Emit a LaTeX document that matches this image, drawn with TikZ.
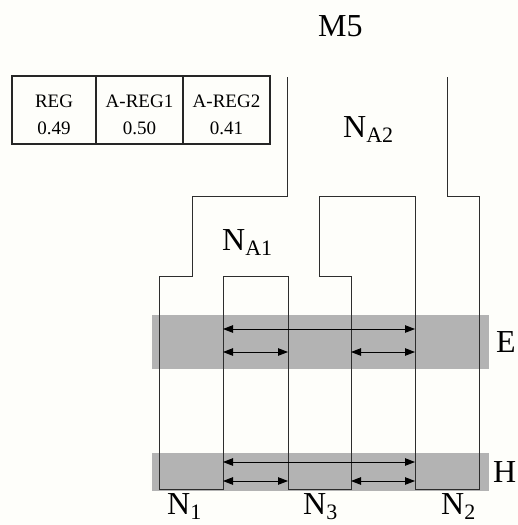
\documentclass[tikz,border=0pt]{standalone}
\usepackage{fontspec}
\setmainfont{Liberation Serif}
\usetikzlibrary{arrows.meta}
\definecolor{band}{RGB}{179,179,179}
\definecolor{ink}{RGB}{45,45,45}
\definecolor{paper}{RGB}{254,254,250}
\newcommand{\subN}[1]{N\raisebox{-5.5pt}{\fontsize{22}{22}\selectfont #1}}
\begin{document}
\begin{tikzpicture}[x=1pt,y=-1pt,
  outline/.style={draw=ink,line width=1pt},
  dimarrow/.style={draw=black,line width=0.9pt,{Triangle[length=10pt,width=7.5pt]}-{Triangle[length=10pt,width=7.5pt]}},
  biglabel/.style={font=\fontsize{32}{32}\selectfont,inner sep=0pt,anchor=base west},
  cell/.style={font=\fontsize{19}{22}\selectfont,inner sep=0pt,anchor=base},
  tableline/.style={draw=black!85,line width=2pt}
]
\fill[paper] (0,0) rectangle (518,525);
\useasboundingbox (0,0) rectangle (518,525);

% grey bands
\fill[band] (152,315) rectangle (489,369);
\fill[band] (152,453) rectangle (489,491);

% outline
\draw[outline] (287,77) -- (287,196) -- (192,196) -- (192,276) -- (159,276) -- (159,489)
  -- (223,489) -- (223,276) -- (288,276) -- (288,489) -- (351,489) -- (351,276)
  -- (319,276) -- (319,196) -- (415,196) -- (415,489) -- (479,489) -- (479,196)
  -- (447,196) -- (447,77);

% arrow end points
\coordinate (e1L) at (223,329); \coordinate (e1R) at (415,329);
\coordinate (e2L) at (223,352); \coordinate (e2M) at (288,352);
\coordinate (e3M) at (351,352); \coordinate (e3R) at (415,352);
\coordinate (h1L) at (223,462); \coordinate (h1R) at (415,462);
\coordinate (h2L) at (223,481); \coordinate (h2M) at (288,481);
\coordinate (h3M) at (351,481); \coordinate (h3R) at (415,481);
\draw[dimarrow] (e1L) -- (e1R);
\draw[dimarrow] (e2L) -- (e2M);
\draw[dimarrow] (e3M) -- (e3R);
\draw[dimarrow] (h1L) -- (h1R);
\draw[dimarrow] (h2L) -- (h2M);
\draw[dimarrow] (h3M) -- (h3R);

% labels
\node[biglabel] (m5) at (318,36) {M5};
\node[biglabel] (na2) at (343,137) {\subN{A2}};
\node[biglabel] (na1) at (222,250) {\subN{A1}};
\node[biglabel] (e) at (496,352) {E};
\node[biglabel] (h) at (493,482) {H};
\node[biglabel] (n1) at (167,514) {\subN{1}};
\node[biglabel] (n3) at (303,514) {\subN{3}};
\node[biglabel] (n2) at (441,514) {\subN{2}};

% table
\draw[tableline] (12,76) rectangle (270,144);
\draw[tableline] (96,76) -- (96,144);
\draw[tableline] (183,76) -- (183,144);
\node[cell] (c1a) at (54,107) {REG};
\node[cell] (c1b) at (54,134) {0.49};
\node[cell] (c2a) at (139.5,107) {A-REG1};
\node[cell] (c2b) at (139.5,134) {0.50};
\node[cell] (c3a) at (226.5,107) {A-REG2};
\node[cell] (c3b) at (226.5,134) {0.41};
\end{tikzpicture}
\end{document}
